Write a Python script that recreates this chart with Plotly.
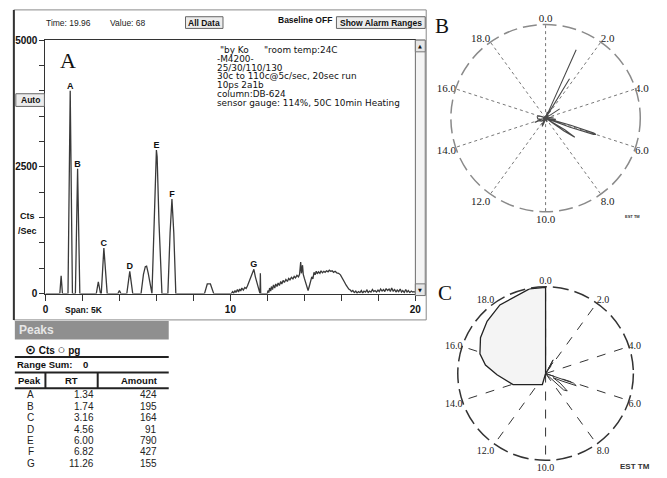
import plotly.graph_objects as go

W, H = 667, 478

# ---------------- data ----------------
chrom_t = [0.0, 0.7, 0.78, 0.85, 0.92, 1.22, 1.34, 1.46, 1.62, 1.74, 1.86,
           2.75, 2.86, 2.98, 3.02, 3.16, 3.34, 3.92, 4.0, 4.08, 4.4, 4.56, 4.72,
           5.17, 5.3, 5.4, 5.47, 5.56, 5.72, 5.76, 5.88, 5.96, 6.0, 6.04, 6.14, 6.3,
           6.62, 6.74, 6.84, 6.94, 7.05, 8.6, 8.75, 8.92, 9.1, 10.0,
           10.05, 10.12, 10.18, 10.25, 10.3, 10.38, 10.44, 10.5, 10.56, 10.62, 10.7,
           10.78, 10.85, 10.92, 11.0, 11.1, 11.2, 11.27, 11.35, 11.45, 11.55, 11.6,
           11.62, 11.64, 12.0, 12.03, 12.08, 12.12, 12.18, 12.22, 12.28, 12.33, 12.4,
           12.45, 12.52, 12.58, 12.65, 12.72, 12.78, 12.85, 12.92, 13.0, 13.08, 13.15,
           13.22, 13.3, 13.38, 13.45, 13.52, 13.6, 13.68, 13.74, 13.8, 13.84, 13.9,
           13.94, 14.0, 14.08, 14.15, 14.2, 14.27, 14.33, 14.4, 14.46, 14.52, 14.58,
           14.64, 14.7, 14.76, 14.84, 14.9, 14.98, 15.05, 15.12, 15.2, 15.28, 15.35,
           15.42, 15.5, 15.58, 15.66, 15.75, 15.85, 15.95, 16.02, 16.1, 16.18, 16.25,
           16.32, 16.4, 16.48, 16.55, 16.62, 16.7, 16.78, 16.85, 16.92, 17.0, 17.08,
           17.15, 17.22, 17.3, 17.38, 17.45, 17.52, 17.6, 17.68, 17.75, 17.82, 17.9,
           17.98, 18.05, 18.12, 18.2, 18.28, 18.35, 18.42, 18.5, 18.58, 18.65, 18.72,
           18.8, 18.88, 18.95, 19.02, 19.1, 19.18, 19.25, 19.32, 19.4, 19.48, 19.55,
           19.62, 19.7, 19.78, 19.85, 19.92, 20.0]
chrom_v = [0, 0, 0, 350, 0, 0, 4000, 0, 0, 2460, 0,
           0, 230, 0, 0, 900, 0, 0, 60, 0, 0, 440, 0,
           0, 380, 530, 540, 400, 0, 0, 1400, 2700, 2830, 2700, 1400, 0,
           0, 1200, 1865, 1200, 0, 0, 190, 190, 0, 0,
           0, 40, 10, 60, 20, 80, 30, 90, 50, 110, 70,
           120, 100, 150, 230, 330, 420, 480, 330, 180, 40, 0,
           400, 0, 0, 60, 20, 110, 50, 140, 80, 170, 110,
           190, 140, 210, 160, 240, 190, 260, 220, 280, 240, 300,
           270, 320, 290, 340, 310, 360, 330, 380, 620, 400, 560,
           380, 300, 180, 80, 60, 150, 250, 330, 290, 420, 370,
           440, 390, 430, 400, 450, 410, 440, 420, 450, 430, 460,
           440, 450, 420, 440, 410, 400, 370, 330, 270, 220, 170,
           130, 90, 70, 40, 60, 20, 50, 10, 40, 20, 60,
           10, 50, 30, 70, 20, 50, 30, 80, 40, 60, 30,
           70, 40, 90, 50, 80, 40, 100, 60, 90, 40, 110,
           50, 80, 30, 70, 40, 90, 30, 60, 20, 80, 30,
           60, 20, 50, 30, 40, 30]

peak_names = ["A", "B", "C", "D", "E", "F", "G"]
peak_rt = [1.34, 1.74, 3.16, 4.56, 6.00, 6.82, 11.26]
peak_rt_text = ["1.34", "1.74", "3.16", "4.56", "6.00", "6.82", "11.26"]
peak_amount = [424, 195, 164, 91, 790, 427, 155]
peak_label_rt = [1.34, 1.74, 3.16, 4.56, 6.00, 6.84, 11.27]
peak_label_h = [4000, 2460, 900, 440, 2830, 1865, 480]

x_ticks = [0, 2, 4, 6, 8, 10, 12, 14, 16, 18, 20]
x_ticktext = ["0", "", "", "", "", "10", "", "", "", "", "20"]
y_ticks = [0, 500, 1000, 1500, 2000, 2500, 3000, 3500, 4000, 4500, 5000]
y_ticktext = ["0", "", "", "", "", "2500", "", "", "", "", "5000"]

notes = ['-M4200-', '25/30/110/130', '30c to 110c@5c/sec, 20sec run',
         '10ps 2a1b', 'column:DB-624', 'sensor gauge: 114%, 50C 10min Heating']

polar_ticks = [0, 2, 4, 6, 8, 10, 12, 14, 16, 18]
polar_ticktext = ["0.0", "2.0", "4.0", "6.0", "8.0", "10.0", "12.0", "14.0", "16.0", "18.0"]

# panel C: filled lobe and small spikes (time, counts)
c_lobe_t = [10.6, 10.9, 13.96, 14.92, 15.45, 15.93, 16.6, 17.32, 18.13, 19.4, 20.0, 20.0]
c_lobe_v = [0, 660, 1980, 2800, 3500, 3950, 4280, 4520, 4750, 4970, 4970, 0]
c_spike_t = [0.0, 1.4, 1.6, 1.72, 1.85, 2.0, 5.8, 6.05, 6.2, 6.35, 6.6, 6.85, 7.15, 7.35, 7.6, 10.6]
c_spike_v = [0, 0, 900, 350, 750, 0, 0, 1700, 1900, 1100, 500, 1000, 1600, 1400, 0, 0]

DEG_PER_MIN = 360 / 20.0

# ---------------- helpers ----------------
def X(p):
    return p / W

def Y(p):
    return 1 - p / H

shapes = []
annotations = []

def rect(x0, y0, x1, y1, line="#555", fill="rgba(0,0,0,0)", width=1):
    shapes.append(dict(type="rect", xref="paper", yref="paper",
                       x0=X(x0), x1=X(x1), y0=Y(y1), y1=Y(y0),
                       line=dict(color=line, width=width), fillcolor=fill, layer="above"))

def ring(x0, y0, x1, y1, color, width, dash):
    shapes.append(dict(type="circle", xref="paper", yref="paper",
                       x0=X(x0), x1=X(x1), y0=Y(y1), y1=Y(y0),
                       line=dict(color=color, width=width, dash=dash),
                       fillcolor="rgba(0,0,0,0)", layer="above"))

def hline(x0, x1, y, color="#222", width=2):
    shapes.append(dict(type="line", xref="paper", yref="paper",
                       x0=X(x0), x1=X(x1), y0=Y(y), y1=Y(y),
                       line=dict(color=color, width=width), layer="above"))

def vline(x, y0, y1, color="#222", width=2):
    shapes.append(dict(type="line", xref="paper", yref="paper",
                       x0=X(x), x1=X(x), y0=Y(y0), y1=Y(y1),
                       line=dict(color=color, width=width), layer="above"))

UI = "Liberation Sans Narrow, Liberation Sans, Arial"

def text(x, y, s, size=9, anchor="left", color="#111", family=UI, bold=False):
    if bold:
        s = "<b>" + s + "</b>"
    annotations.append(dict(xref="paper", yref="paper", x=X(x), y=Y(y), text=s,
                            showarrow=False, xanchor=anchor, yanchor="middle",
                            borderpad=0, font=dict(size=size, color=color, family=family)))

# ---------------- figure ----------------
fig = go.Figure()

fig.add_trace(go.Scatter(x=chrom_t, y=chrom_v, mode="lines",
                         line=dict(color="#3a3a3a", width=1.3),
                         xaxis="x", yaxis="y", showlegend=False, hoverinfo="skip"))

fig.add_trace(go.Scatter(x=peak_label_rt, y=peak_label_h, mode="text",
                         text=["<b>" + n + "</b>" for n in peak_names],
                         textposition="top center",
                         textfont=dict(size=9, color="#111", family=UI),
                         xaxis="x", yaxis="y", showlegend=False, hoverinfo="skip"))

# polar B: same chromatogram wrapped around the clock
fig.add_trace(go.Scatterpolar(r=chrom_v, theta=[t * DEG_PER_MIN for t in chrom_t],
                              mode="lines", line=dict(color="#4a4a4a", width=1.1),
                              subplot="polar", showlegend=False, hoverinfo="skip"))

# polar C
fig.add_trace(go.Scatterpolar(r=c_lobe_v, theta=[t * DEG_PER_MIN for t in c_lobe_t],
                              mode="lines", fill="toself", fillcolor="#f4f4f4",
                              line=dict(color="#222", width=1.3),
                              subplot="polar2", showlegend=False, hoverinfo="skip"))
fig.add_trace(go.Scatterpolar(r=c_spike_v, theta=[t * DEG_PER_MIN for t in c_spike_t],
                              mode="lines", line=dict(color="#333", width=1),
                              subplot="polar2", showlegend=False, hoverinfo="skip"))

def polar_layout(domain_x, domain_y, grid_color, grid_dash, label_size):
    return dict(
        domain=dict(x=domain_x, y=domain_y),
        bgcolor="rgba(0,0,0,0)",
        radialaxis=dict(range=[0, 5000], showticklabels=False, ticks="",
                        showline=False, showgrid=False),
        angularaxis=dict(rotation=90, direction="clockwise",
                         tickvals=[t * DEG_PER_MIN for t in polar_ticks],
                         ticktext=polar_ticktext, ticks="", showline=False,
                         showgrid=True, gridcolor=grid_color, griddash=grid_dash, gridwidth=1,
                         tickfont=dict(family="Liberation Serif", size=label_size, color="#222")),
    )

# ---------- chromatogram panel decorations ----------
rect(11, 4, 429, 322, line="#8a8a8a", width=1)
vline(11, 4, 322, color="#333", width=2)
text(43, 17, "Time: 19.96", size=8.5, color="#222")
text(107, 17, "Value: 68", size=8.5, color="#222")
rect(185, 11, 223, 23, line="#666", fill="#ececec", width=1)
text(204, 17, "All Data", size=8.5, anchor="center", bold=True)
text(335, 14, "Baseline OFF", size=8.5, anchor="right", bold=True)
rect(338, 11, 428, 23, line="#666", fill="#ececec", width=1)
text(383, 17, "Show Alarm Ranges", size=8.5, anchor="center", bold=True)
rect(13, 90, 42, 103, line="#666", fill="#ececec", width=1)
text(27.5, 96.5, "Auto", size=8.5, anchor="center", bold=True)
text(25, 215, "Cts", size=9, anchor="center", bold=True)
text(25, 231, "/Sec", size=9, anchor="center", bold=True)
text(62, 312, "Span: 5K", size=8.5, bold=True)

# scrollbar
rect(418, 35, 428, 297, line="#777", fill="#f4f4f4", width=1)
rect(418, 35, 428, 47, line="#777", fill="#e6e6e6", width=1)
rect(418, 285, 428, 297, line="#777", fill="#e6e6e6", width=1)
text(423, 41, "▲", size=5, anchor="center", family="DejaVu Sans")
text(423, 291, "▼", size=5, anchor="center", family="DejaVu Sans")

# panel letter and notes
NOTE_FONT = "DejaVu Sans"
text(57, 56, "A", size=22, family="Liberation Serif")
text(219, 45, '"by Ko', size=8.9, family=NOTE_FONT)
text(264, 45, '"room temp:24C', size=8.9, family=NOTE_FONT)
for i, line_txt in enumerate(notes):
    text(216, 54.2 + i * 9.03, line_txt, size=8.9, family=NOTE_FONT)

# ---------- peaks table ----------
rect(12, 323, 168, 342, line="#8f8f8f", fill="#8f8f8f", width=0)
text(15, 332, "Peaks", size=12, color="#e6e6e6", bold=True, family="Liberation Sans")
text(21, 352, "<span style='font-size:13px'>⊙</span> Cts <span style='font-size:13px'>○</span> pg",
     size=10, bold=True, family="Liberation Sans, DejaVu Sans")
hline(12, 168, 360)
text(13, 367.5, "Range Sum:    0", size=9.5, bold=True)
hline(12, 168, 376)
vline(43, 376, 392)
vline(96, 376, 392)
text(14, 384, "Peak", size=9.5, bold=True)
text(69, 384, "RT", size=9.5, anchor="center", bold=True)
text(158, 384, "Amount", size=9.5, anchor="right", bold=True)
hline(12, 168, 392)
for i in range(len(peak_names)):
    yy = 399 + i * 11.67
    text(28, yy, peak_names[i], size=10, anchor="center", color="#222")
    text(93, yy, peak_rt_text[i], size=10, anchor="right", color="#222")
    text(157, yy, str(peak_amount[i]), size=10, anchor="right", color="#222")

# ---------- polar frames and labels ----------
ring(454, 19, 646, 211, "#8a8a8a", 1.5, "14px,6px")
ring(461, 288, 639, 466, "#333", 1.5, "16px,6px")
text(437, 21, "B", size=21, family="Liberation Serif")
text(440, 294, "C", size=21, family="Liberation Serif")
text(630, 216, "<b>EST TM</b>", size=4, family="Liberation Sans", color="#333")
text(624, 472, "<b>EST TM</b>", size=8, family="Liberation Sans", color="#333")

fig.update_layout(
    width=W, height=H,
    margin=dict(l=0, r=0, t=0, b=0),
    paper_bgcolor="white", plot_bgcolor="white",
    showlegend=False,
    xaxis=dict(domain=[X(43), X(418)], range=[0, 20], tickvals=x_ticks,
               ticktext=x_ticktext, ticks="outside", ticklen=6, tickcolor="#333",
               showline=True, linecolor="#333", linewidth=1, mirror=True,
               showgrid=False, zeroline=False,
               tickfont=dict(size=10, family=UI, color="#111", weight="bold")),
    yaxis=dict(domain=[Y(295), Y(35)], range=[0, 5000], tickvals=y_ticks,
               ticktext=y_ticktext, ticks="outside", ticklen=5, tickcolor="#333",
               showline=True, linecolor="#333", linewidth=1, mirror=True,
               showgrid=False, zeroline=False,
               tickfont=dict(size=10, family=UI, color="#111", weight="bold")),
    polar=polar_layout([X(454), X(646)], [Y(211), Y(19)], "#777", "dot", 11),
    polar2=polar_layout([X(461), X(639)], [Y(466), Y(288)], "#333", "dash", 10),
    shapes=shapes,
    annotations=annotations,
)

fig.write_html("out.html", config={"displayModeBar": False},
               post_script="document.body.style.margin='0';")
